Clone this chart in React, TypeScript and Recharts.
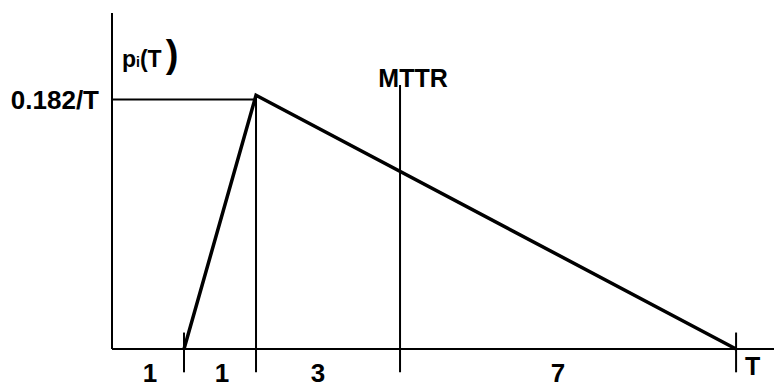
import { Label, Line, LineChart, ReferenceLine, XAxis, YAxis } from "recharts";

// positions along the drawn time axis (the sketch is not to scale: 1,1,3,7)
const segmentLabels = ["1", "1", "3", "7"];
const segmentLabelX = [0.79, 2.29, 4.29, 9.29];
const startX = 1.5;
const peakX = 3;
const mttrX = 6;
const endX = 13;
const axisEndX = 13.79;

const densityX = [startX, peakX, endX];
const densityY = [0, 0.185, 0];

const peakLevel = 0.182;
const mttrTop = 0.1925;
const tickTop = 0.012;
const dropBottom = -0.017;
const yTop = 0.245;

const points = densityX.map((x, i) => ({ x, y: densityY[i] }));

const font = "'Liberation Sans', Arial, Helvetica, sans-serif";

function PLabel(props: any) {
  const { viewBox } = props;
  return (
    <text x={viewBox.x + 10} y={viewBox.y + 54} fontFamily={font} fontWeight="bold" fontSize={23} fill="#000">
      p<tspan fontSize={14}>i</tspan>
      <tspan>(T</tspan>
      <tspan fontSize={38} dx={4} dy={0}>
        )
      </tspan>
    </text>
  );
}

function TLabel(props: any) {
  const { viewBox } = props;
  return (
    <text x={viewBox.x + 9} y={viewBox.y + viewBox.height + 3} fontFamily={font} fontWeight="bold" fontSize={25} fill="#000">
      T
    </text>
  );
}

export default function App() {
  return (
    <div style={{ position: "absolute", left: 0, top: 0, background: "#fff" }}>
      <LineChart width={774} height={383} data={points} margin={{ top: 13, right: 0, left: 112, bottom: 0 }}>
        <XAxis
          type="number"
          dataKey="x"
          domain={[0, axisEndX]}
          ticks={segmentLabelX}
          interval={0}
          tickFormatter={(_v, i) => segmentLabels[i]}
          axisLine={{ stroke: "#000", strokeWidth: 2 }}
          tickLine={false}
          tickSize={0}
          tickMargin={15}
          height={34}
          tick={{ fill: "#000", fontSize: 26, fontWeight: "bold", fontFamily: font }}
        />
        <YAxis hide type="number" domain={[0, yTop]} />
        <ReferenceLine segment={[{ x: 0, y: 0 }, { x: 0, y: yTop }]} stroke="#000" strokeWidth={2} ifOverflow="visible">
          <Label content={PLabel} />
        </ReferenceLine>
        <ReferenceLine
          segment={[{ x: 0, y: peakLevel }, { x: peakX, y: peakLevel }]}
          stroke="#000"
          strokeWidth={2}
          ifOverflow="visible"
        >
          <Label value="0.182/T" position="left" offset={13} fill="#000" fontSize={26} fontWeight="bold" fontFamily={font} />
        </ReferenceLine>
        <ReferenceLine
          segment={[{ x: peakX, y: dropBottom }, { x: peakX, y: densityY[1] }]}
          stroke="#000"
          strokeWidth={2}
          ifOverflow="visible"
        />
        <ReferenceLine
          segment={[{ x: mttrX, y: dropBottom }, { x: mttrX, y: mttrTop }]}
          stroke="#000"
          strokeWidth={2}
          ifOverflow="visible"
        >
          <Label value="MTTR" position="top" offset={-2} dx={13} fill="#000" fontSize={25} fontWeight="bold" fontFamily={font} />
        </ReferenceLine>
        <ReferenceLine
          segment={[{ x: startX, y: dropBottom }, { x: startX, y: tickTop }]}
          stroke="#000"
          strokeWidth={2}
          ifOverflow="visible"
        />
        <ReferenceLine
          segment={[{ x: endX, y: dropBottom }, { x: endX, y: tickTop }]}
          stroke="#000"
          strokeWidth={2}
          ifOverflow="visible"
        >
          <Label content={TLabel} />
        </ReferenceLine>
        <Line
          type="linear"
          dataKey="y"
          stroke="#000"
          strokeWidth={3.5}
          dot={false}
          activeDot={false}
          isAnimationActive={false}
        />
      </LineChart>
    </div>
  );
}
